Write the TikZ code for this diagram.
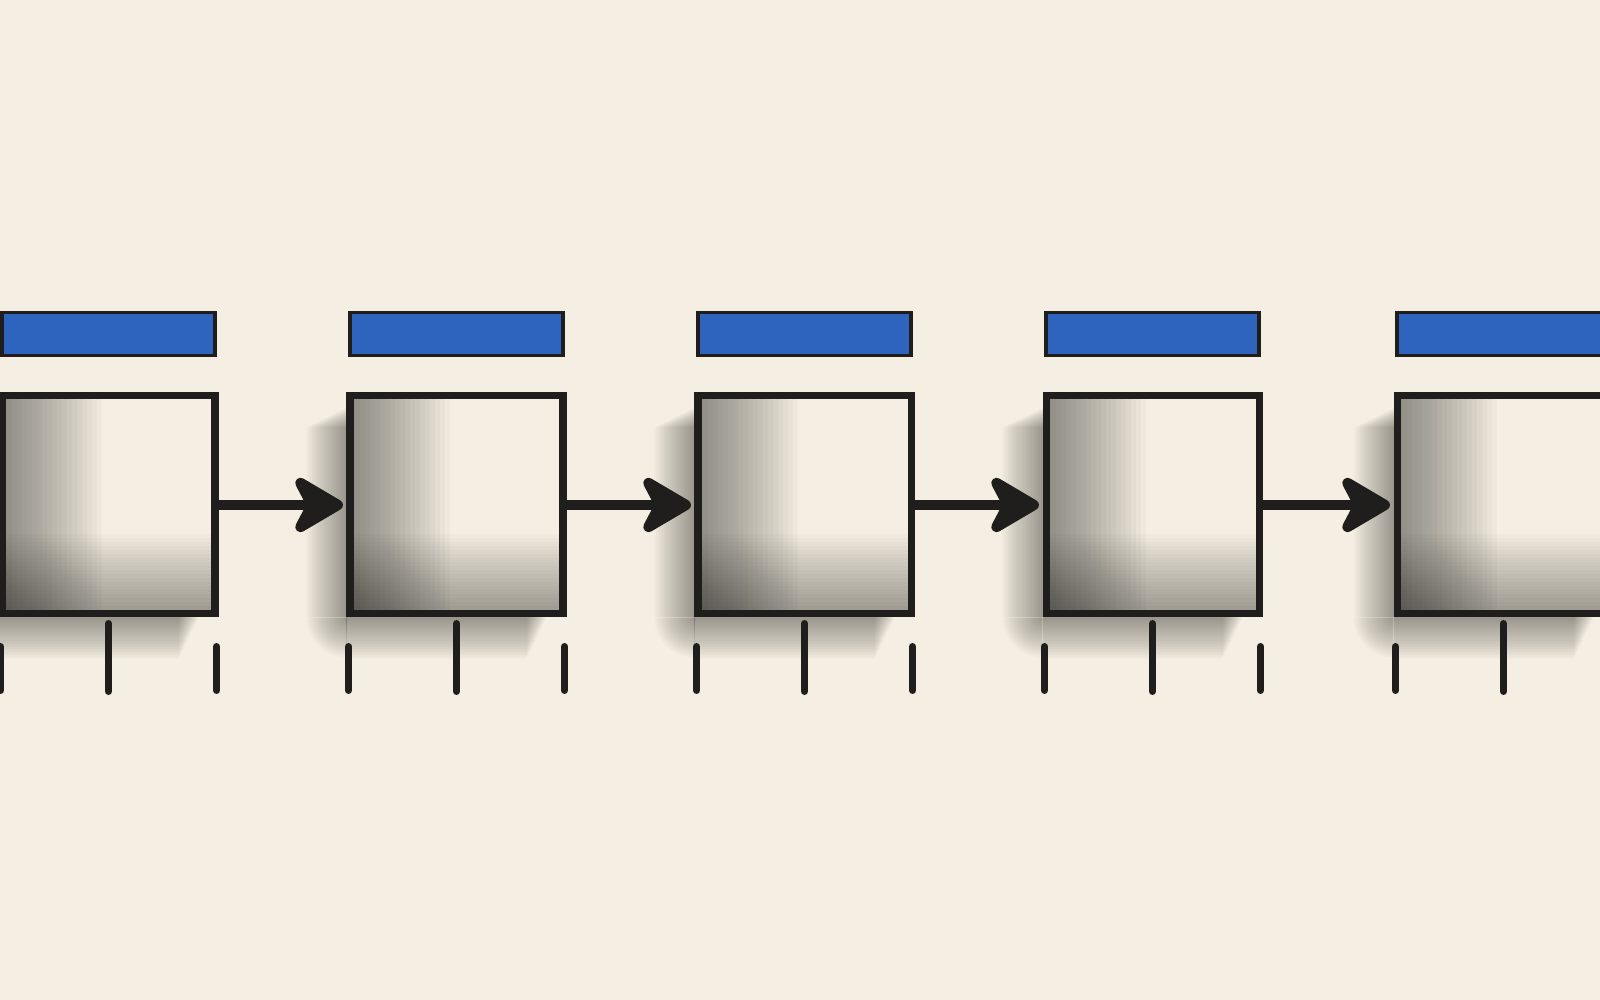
\documentclass[tikz,border=0pt]{standalone}
\usetikzlibrary{arrows.meta,positioning}
\definecolor{paper}{RGB}{244,239,226}
\definecolor{pencil}{RGB}{32,30,28}
\definecolor{blueink}{RGB}{46,100,190}
\tikzstyle{cell}=[rectangle, draw=pencil, line width=2pt, fill=paper, minimum width=2.13cm, minimum height=2.18cm, inner sep=0pt,
  path picture={
    \foreach \k in {1,...,20}
      \fill[black, opacity=0.024] (path picture bounding box.south west) rectangle ([xshift=\k*0.05cm]path picture bounding box.north west);
    \foreach \k in {1,...,20}
      \fill[black, opacity=0.02] (path picture bounding box.south west) rectangle ([yshift=\k*0.04cm]path picture bounding box.south east);
  }]
\tikzstyle{tag}=[rectangle, draw=pencil, line width=1.1pt, fill=blueink, minimum width=2.13cm, minimum height=0.43cm, inner sep=0pt]
\tikzstyle{link}=[line width=3pt, draw=pencil, -{Stealth[length=6mm, width=7mm, inset=1.8mm, round]}, shorten >=1pt]
\tikzstyle{tickln}=[line width=2pt, draw=pencil, line cap=round]
\tikzstyle{smudge}=[black, opacity=0.02]

\begin{document}
\begin{tikzpicture}[auto, thick, scale=1]

\clip (0,0) rectangle (16,10);
\fill[paper] (0,0) rectangle (16,10);

\node[cell] (b1) at (1.085,4.95) {};
\node[cell] (b2) at (4.565,4.95) {};
\node[cell] (b3) at (8.045,4.95) {};
\node[cell] (b4) at (11.525,4.95) {};
\node[cell] (b5) at (15.035,4.95) {};

% pencil shadow left of and below each box
\foreach \b in {b1,b2,b3,b4,b5} {
  \foreach \k in {1,...,20} {
    \fill[smudge] ([xshift=-\k*0.02cm]\b.south west) rectangle ([yshift=-0.15cm-\k*0.01cm]\b.north west);
    \fill[smudge] ([yshift=-\k*0.021cm]\b.south west) rectangle ([xshift=-0.2cm-\k*0.01cm]\b.south east);
    \fill[smudge] (\b.south west) -- ++(180:\k*0.02) arc (180:270:\k*0.02) -- cycle;
  }
}

\node[tag, above=0.35cm of b1] (t1) {};
\node[tag, above=0.35cm of b2] (t2) {};
\node[tag, above=0.35cm of b3] (t3) {};
\node[tag, above=0.35cm of b4] (t4) {};
\node[tag, above=0.35cm of b5] (t5) {};

\draw[link] (b1) -- (b2);
\draw[link] (b2) -- (b3);
\draw[link] (b3) -- (b4);
\draw[link] (b4) -- (b5);

% ticks under each box
\draw[tickln] ([xshift=0.02cm, yshift=-0.29cm]b1.south west) -- ++(0,-0.44);
\draw[tickln] ([yshift=-0.06cm]b1.south) -- ++(0,-0.68);
\draw[tickln] ([xshift=-0.02cm, yshift=-0.29cm]b1.south east) -- ++(0,-0.44);
\draw[tickln] ([xshift=0.02cm, yshift=-0.29cm]b2.south west) -- ++(0,-0.44);
\draw[tickln] ([yshift=-0.06cm]b2.south) -- ++(0,-0.68);
\draw[tickln] ([xshift=-0.02cm, yshift=-0.29cm]b2.south east) -- ++(0,-0.44);
\draw[tickln] ([xshift=0.02cm, yshift=-0.29cm]b3.south west) -- ++(0,-0.44);
\draw[tickln] ([yshift=-0.06cm]b3.south) -- ++(0,-0.68);
\draw[tickln] ([xshift=-0.02cm, yshift=-0.29cm]b3.south east) -- ++(0,-0.44);
\draw[tickln] ([xshift=0.02cm, yshift=-0.29cm]b4.south west) -- ++(0,-0.44);
\draw[tickln] ([yshift=-0.06cm]b4.south) -- ++(0,-0.68);
\draw[tickln] ([xshift=-0.02cm, yshift=-0.29cm]b4.south east) -- ++(0,-0.44);
\draw[tickln] ([xshift=0.02cm, yshift=-0.29cm]b5.south west) -- ++(0,-0.44);
\draw[tickln] ([yshift=-0.06cm]b5.south) -- ++(0,-0.68);
\draw[tickln] ([xshift=-0.02cm, yshift=-0.29cm]b5.south east) -- ++(0,-0.44);

\end{tikzpicture}
\end{document}
